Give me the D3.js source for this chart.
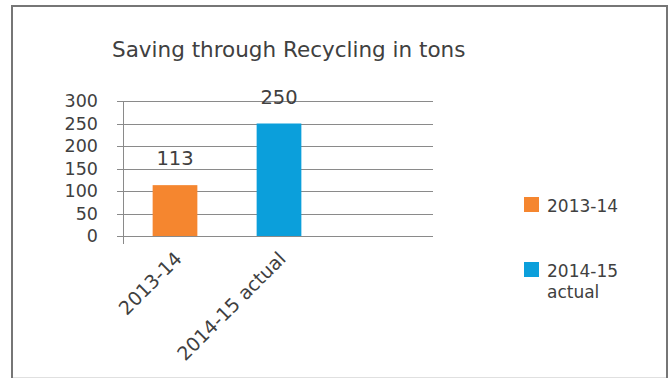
<!DOCTYPE html>
<html>
<head>
<meta charset="utf-8">
<script src="https://cdn.jsdelivr.net/npm/d3@7"></script>
<style>
  body { margin: 0; background: #fff; }
  svg { display: block; font-family: "DejaVu Sans", sans-serif; }
  text { fill: #404040; }
</style>
</head>
<body>
<svg width="668" height="378"></svg>
<script>
const categories = ["2013-14", "2014-15 actual"];
const values = [113, 250];
const yTicks = [0, 50, 100, 150, 200, 250, 300];
const legendLabels = [["2013-14"], ["2014-15", "actual"]];
const colors = ["#F5862F", "#0B9FDB"];

const svg = d3.select("svg");

// outer frame
svg.append("rect")
  .attr("x", 12).attr("y", 6)
  .attr("width", 655).attr("height", 380)
  .attr("fill", "none")
  .attr("stroke", "#767676")
  .attr("stroke-width", 2);
svg.append("line")
  .attr("x1", 13).attr("x2", 666)
  .attr("y1", 377.5).attr("y2", 377.5)
  .attr("stroke", "#e0e0e0");

svg.append("text")
  .attr("x", 112).attr("y", 57)
  .attr("font-size", 21.5)
  .text("Saving through Recycling in tons");

const plotLeft = 123, plotTop = 101, plotBottom = 236;

const y = d3.scaleLinear().domain([0, 300]).range([plotBottom, plotTop]);
const x = d3.scaleBand()
  .domain(categories)
  .range([plotLeft, plotLeft + 208])
  .paddingInner(0.57)
  .paddingOuter(0.285);

// gridlines
svg.append("g")
  .selectAll("line")
  .data(yTicks)
  .join("line")
  .attr("x1", plotLeft - 6).attr("x2", plotLeft + 310)
  .attr("y1", d => Math.round(y(d)) + 0.5)
  .attr("y2", d => Math.round(y(d)) + 0.5)
  .attr("stroke", "#8a8a8a")
  .attr("stroke-width", 1);

// y axis line
svg.append("line")
  .attr("x1", plotLeft + 0.5).attr("x2", plotLeft + 0.5)
  .attr("y1", plotTop).attr("y2", plotBottom + 8)
  .attr("stroke", "#8a8a8a");

// y tick labels
svg.append("g")
  .selectAll("text")
  .data(yTicks)
  .join("text")
  .attr("x", 98)
  .attr("y", d => y(d) + 6)
  .attr("text-anchor", "end")
  .attr("font-size", 17.5)
  .text(d => d);

// bars
svg.append("g")
  .selectAll("rect")
  .data(values)
  .join("rect")
  .attr("x", (d, i) => x(categories[i]))
  .attr("y", d => y(d))
  .attr("width", x.bandwidth())
  .attr("height", d => plotBottom - y(d))
  .attr("fill", (d, i) => colors[i]);

// value labels
svg.append("g")
  .selectAll("text")
  .data(values)
  .join("text")
  .attr("x", (d, i) => x(categories[i]) + x.bandwidth() / 2)
  .attr("y", d => y(d) - 20)
  .attr("text-anchor", "middle")
  .attr("font-size", 19.5)
  .text(d => d);

// category labels
svg.append("g")
  .selectAll("text")
  .data(categories)
  .join("text")
  .attr("transform", d => `translate(${x(d) + x.bandwidth() / 2 + 8}, ${plotBottom + 24}) rotate(-45)`)
  .attr("text-anchor", "end")
  .attr("font-size", 19)
  .text(d => d);

// legend
const legend = svg.append("g")
  .selectAll("g")
  .data(legendLabels)
  .join("g")
  .attr("transform", (d, i) => `translate(524, ${197 + i * 65})`);
legend.append("rect")
  .attr("width", 15).attr("height", 15)
  .attr("fill", (d, i) => colors[i]);
legend.append("text")
  .attr("x", 23)
  .attr("font-size", 17)
  .selectAll("tspan")
  .data(d => d)
  .join("tspan")
  .attr("x", 23)
  .attr("y", (d, i) => 15 + i * 21)
  .text(d => d);
</script>
</body>
</html>
